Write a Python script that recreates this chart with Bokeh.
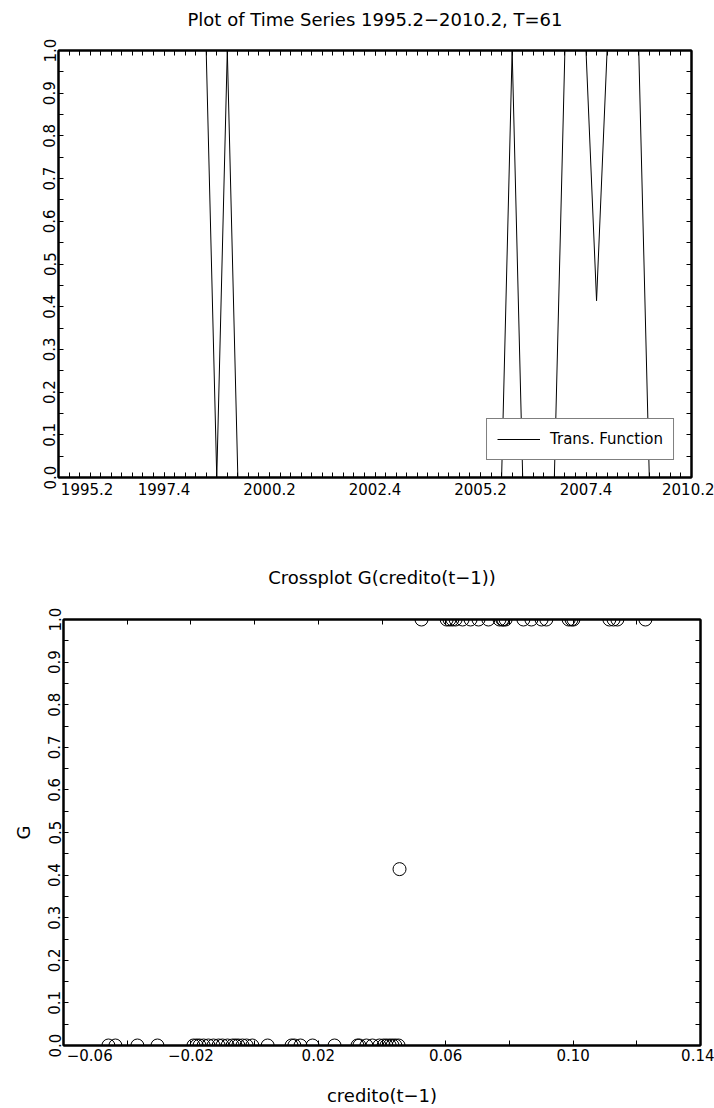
from bokeh.plotting import figure
from bokeh.models import FixedTicker, Legend, LinearAxis, Range1d, Title
from bokeh.layouts import column
from bokeh.embed import file_html
from bokeh.resources import INLINE

# ---------------- data ----------------
# top panel: transition function over 61 quarters (1995.2 .. 2010.2)
quarter_index = list(range(61))
trans_function = [
    1, 1, 1, 1, 1, 1, 1, 1, 1, 1,
    1, 1, 1, 1, 1, 0, 1, 0, 0, 0,
    0, 0, 0, 0, 0, 0, 0, 0, 0, 0,
    0, 0, 0, 0, 0, 0, 0, 0, 0, 0,
    0, 0, 0, 1, 0, 0, 0, 0, 1, 1,
    1, 0.414, 1, 1, 1, 1, 0, 0, 0, 0,
    0,
]
time_tick_pos = [0, 10, 20, 30, 40, 50, 60]
time_tick_labels = ["1995.2", "1997.4", "2000.2", "2002.4", "2005.2", "2007.4", "2010.2"]

# bottom panel: crossplot G vs credito(t-1)
credito_lag = [
    -0.0459, -0.0437, -0.0368, -0.0305, -0.0192, -0.0182, -0.0173, -0.0160, -0.0145, -0.0129,
    -0.0113, -0.0101, -0.0085, -0.0069, -0.0060, -0.0051, -0.0038, -0.0025, -0.0007, 0.0041,
    0.0116, 0.0125, 0.0144, 0.0182, 0.0251, 0.0323, 0.0329, 0.0351, 0.0370, 0.0392,
    0.0405, 0.0414, 0.0424, 0.0433, 0.0442, 0.0452,
    0.0455,
    0.0524, 0.0603, 0.0612, 0.0621, 0.0631, 0.0653, 0.0678, 0.0703, 0.0734, 0.0769,
    0.0778, 0.0781, 0.0788, 0.0844, 0.0869, 0.0901, 0.0916, 0.0986, 0.0995, 0.1001,
    0.1114, 0.1127, 0.1139, 0.1227,
]
g_cross = [
    0, 0, 0, 0, 0, 0, 0, 0, 0, 0,
    0, 0, 0, 0, 0, 0, 0, 0, 0, 0,
    0, 0, 0, 0, 0, 0, 0, 0, 0, 0,
    0, 0, 0, 0, 0, 0,
    0.414,
    1, 1, 1, 1, 1, 1, 1, 1, 1, 1,
    1, 1, 1, 1, 1, 1, 1, 1, 1, 1,
    1, 1, 1, 1,
]
cross_tick_pos = [-0.06, -0.02, 0.02, 0.06, 0.10, 0.14]
cross_tick_labels = ["\u22120.06", "\u22120.02", "0.02", "0.06", "0.10", "0.14"]
cross_minor_pos = [-0.04, 0.0, 0.04, 0.08, 0.12]

g_tick_pos = [0.0, 0.1, 0.2, 0.3, 0.4, 0.5, 0.6, 0.7, 0.8, 0.9, 1.0]
g_tick_labels = ["0.0", "0.1", "0.2", "0.3", "0.4", "0.5", "0.6", "0.7", "0.8", "0.9", "1.0"]
g_minor_pos = [0.05, 0.15, 0.25, 0.35, 0.45, 0.55, 0.65, 0.75, 0.85, 0.95]

FONT = "DejaVu Sans"
TICK_SIZE = "15px"
TITLE_SIZE = "18px"
NBSP = "\u00a0"


def style_axis(ax, ticks, minor, labels=None, show=True, vertical=False, standoff=3):
    ax.ticker = FixedTicker(ticks=ticks, minor_ticks=minor)
    ax.axis_line_color = "black"
    ax.axis_line_width = 2
    ax.major_tick_in = 5
    ax.major_tick_out = 0
    ax.minor_tick_in = 5
    ax.minor_tick_out = 0
    ax.major_tick_line_color = "black"
    ax.minor_tick_line_color = "black"
    ax.major_label_text_font = FONT
    ax.major_label_text_color = "black"
    if show:
        ax.major_label_text_font_size = TICK_SIZE
        ax.major_label_standoff = standoff
        if labels is not None:
            ax.major_label_overrides = dict(zip(ticks, labels))
        if vertical:
            ax.major_label_orientation = "vertical"
    else:
        ax.major_label_text_font_size = "0px"
        ax.major_label_text_alpha = 0
        ax.major_label_standoff = standoff


def base_fig(width, height, xr, yr, left, right, top, bottom, title, title_standoff):
    p = figure(width=width, height=height, x_range=xr, y_range=yr,
               output_backend="svg", toolbar_location=None,
               min_border_left=left, min_border_right=right,
               min_border_top=top, min_border_bottom=bottom,
               x_axis_location=None, y_axis_location=None,
               frame_align=False)
    p.grid.visible = False
    p.outline_line_color = "black"
    p.outline_line_width = 2
    p.background_fill_color = "white"
    p.border_fill_color = "white"
    p.title.text = title
    p.title.align = "center"
    p.title.text_font = FONT
    p.title.text_font_style = "normal"
    p.title.text_font_size = TITLE_SIZE
    p.title.text_color = "black"
    p.title.standoff = title_standoff
    return p


def add_spacer(p, size):
    # empty gap between the top ticks and the title
    p.add_layout(Title(text=" ", text_font_size=size, standoff=0), "above")


# ---------------- top panel ----------------
p1 = base_fig(714, 540, Range1d(0, 60), Range1d(0, 1), 58, 23, 50, 63,
              "Plot of Time Series 1995.2\u22122010.2, T=61", 4)

# first label left-aligned at the axis start (as in the original)
top_labels = [NBSP * 12 + time_tick_labels[0]] + time_tick_labels[1:]
ax = LinearAxis()
style_axis(ax, time_tick_pos, quarter_index, top_labels, standoff=3)
p1.add_layout(ax, "below")
ax = LinearAxis()
style_axis(ax, time_tick_pos, quarter_index, show=False, standoff=0)
p1.add_layout(ax, "above")
ax = LinearAxis()
style_axis(ax, g_tick_pos, g_minor_pos, g_tick_labels, vertical=True, standoff=3)
p1.add_layout(ax, "left")
ax = LinearAxis()
style_axis(ax, g_tick_pos, g_minor_pos, show=False, standoff=0)
p1.add_layout(ax, "right")
add_spacer(p1, "16px")

r = p1.line(quarter_index, trans_function, line_color="black", line_width=1)
legend = Legend(items=[("Trans. Function", [r])], location="bottom_right")
legend.border_line_color = "black"
legend.border_line_width = 1
legend.background_fill_color = "white"
legend.background_fill_alpha = 1.0
legend.label_text_font = FONT
legend.label_text_font_size = TICK_SIZE
legend.label_text_color = "black"
legend.glyph_width = 43
legend.glyph_height = 20
legend.label_height = 20
legend.label_standoff = 10
legend.padding = 10
legend.margin = 17
legend.spacing = 0
p1.add_layout(legend)

# ---------------- bottom panel ----------------
p2 = base_fig(714, 568, Range1d(-0.06, 0.14), Range1d(0, 1), 63, 14, 79, 58,
              "Crossplot G(credito(t\u22121))", 22)

bottom_labels = [NBSP * 11 + cross_tick_labels[0]] + cross_tick_labels[1:]
ax = LinearAxis()
style_axis(ax, cross_tick_pos, cross_minor_pos, bottom_labels, standoff=1)
ax.axis_label = "credito(t\u22121)"
ax.axis_label_text_font = FONT
ax.axis_label_text_font_style = "normal"
ax.axis_label_text_font_size = TITLE_SIZE
ax.axis_label_text_color = "black"
ax.axis_label_standoff = 17
p2.add_layout(ax, "below")
ax = LinearAxis()
style_axis(ax, cross_tick_pos, cross_minor_pos, show=False, standoff=0)
p2.add_layout(ax, "above")
ax = LinearAxis()
style_axis(ax, g_tick_pos, g_minor_pos, g_tick_labels, vertical=True, standoff=3)
ax.axis_label = "G"
ax.axis_label_text_font = FONT
ax.axis_label_text_font_style = "normal"
ax.axis_label_text_font_size = TITLE_SIZE
ax.axis_label_text_color = "black"
ax.axis_label_standoff = 12
p2.add_layout(ax, "left")
ax = LinearAxis()
style_axis(ax, g_tick_pos, g_minor_pos, show=False, standoff=0)
p2.add_layout(ax, "right")
add_spacer(p2, "17px")

p2.scatter(credito_lag, g_cross, marker="circle", size=13,
           fill_color=None, line_color="black", line_width=1)

layout = column(p1, p2, spacing=0)
open("out.html", "w").write(file_html(layout, INLINE))
